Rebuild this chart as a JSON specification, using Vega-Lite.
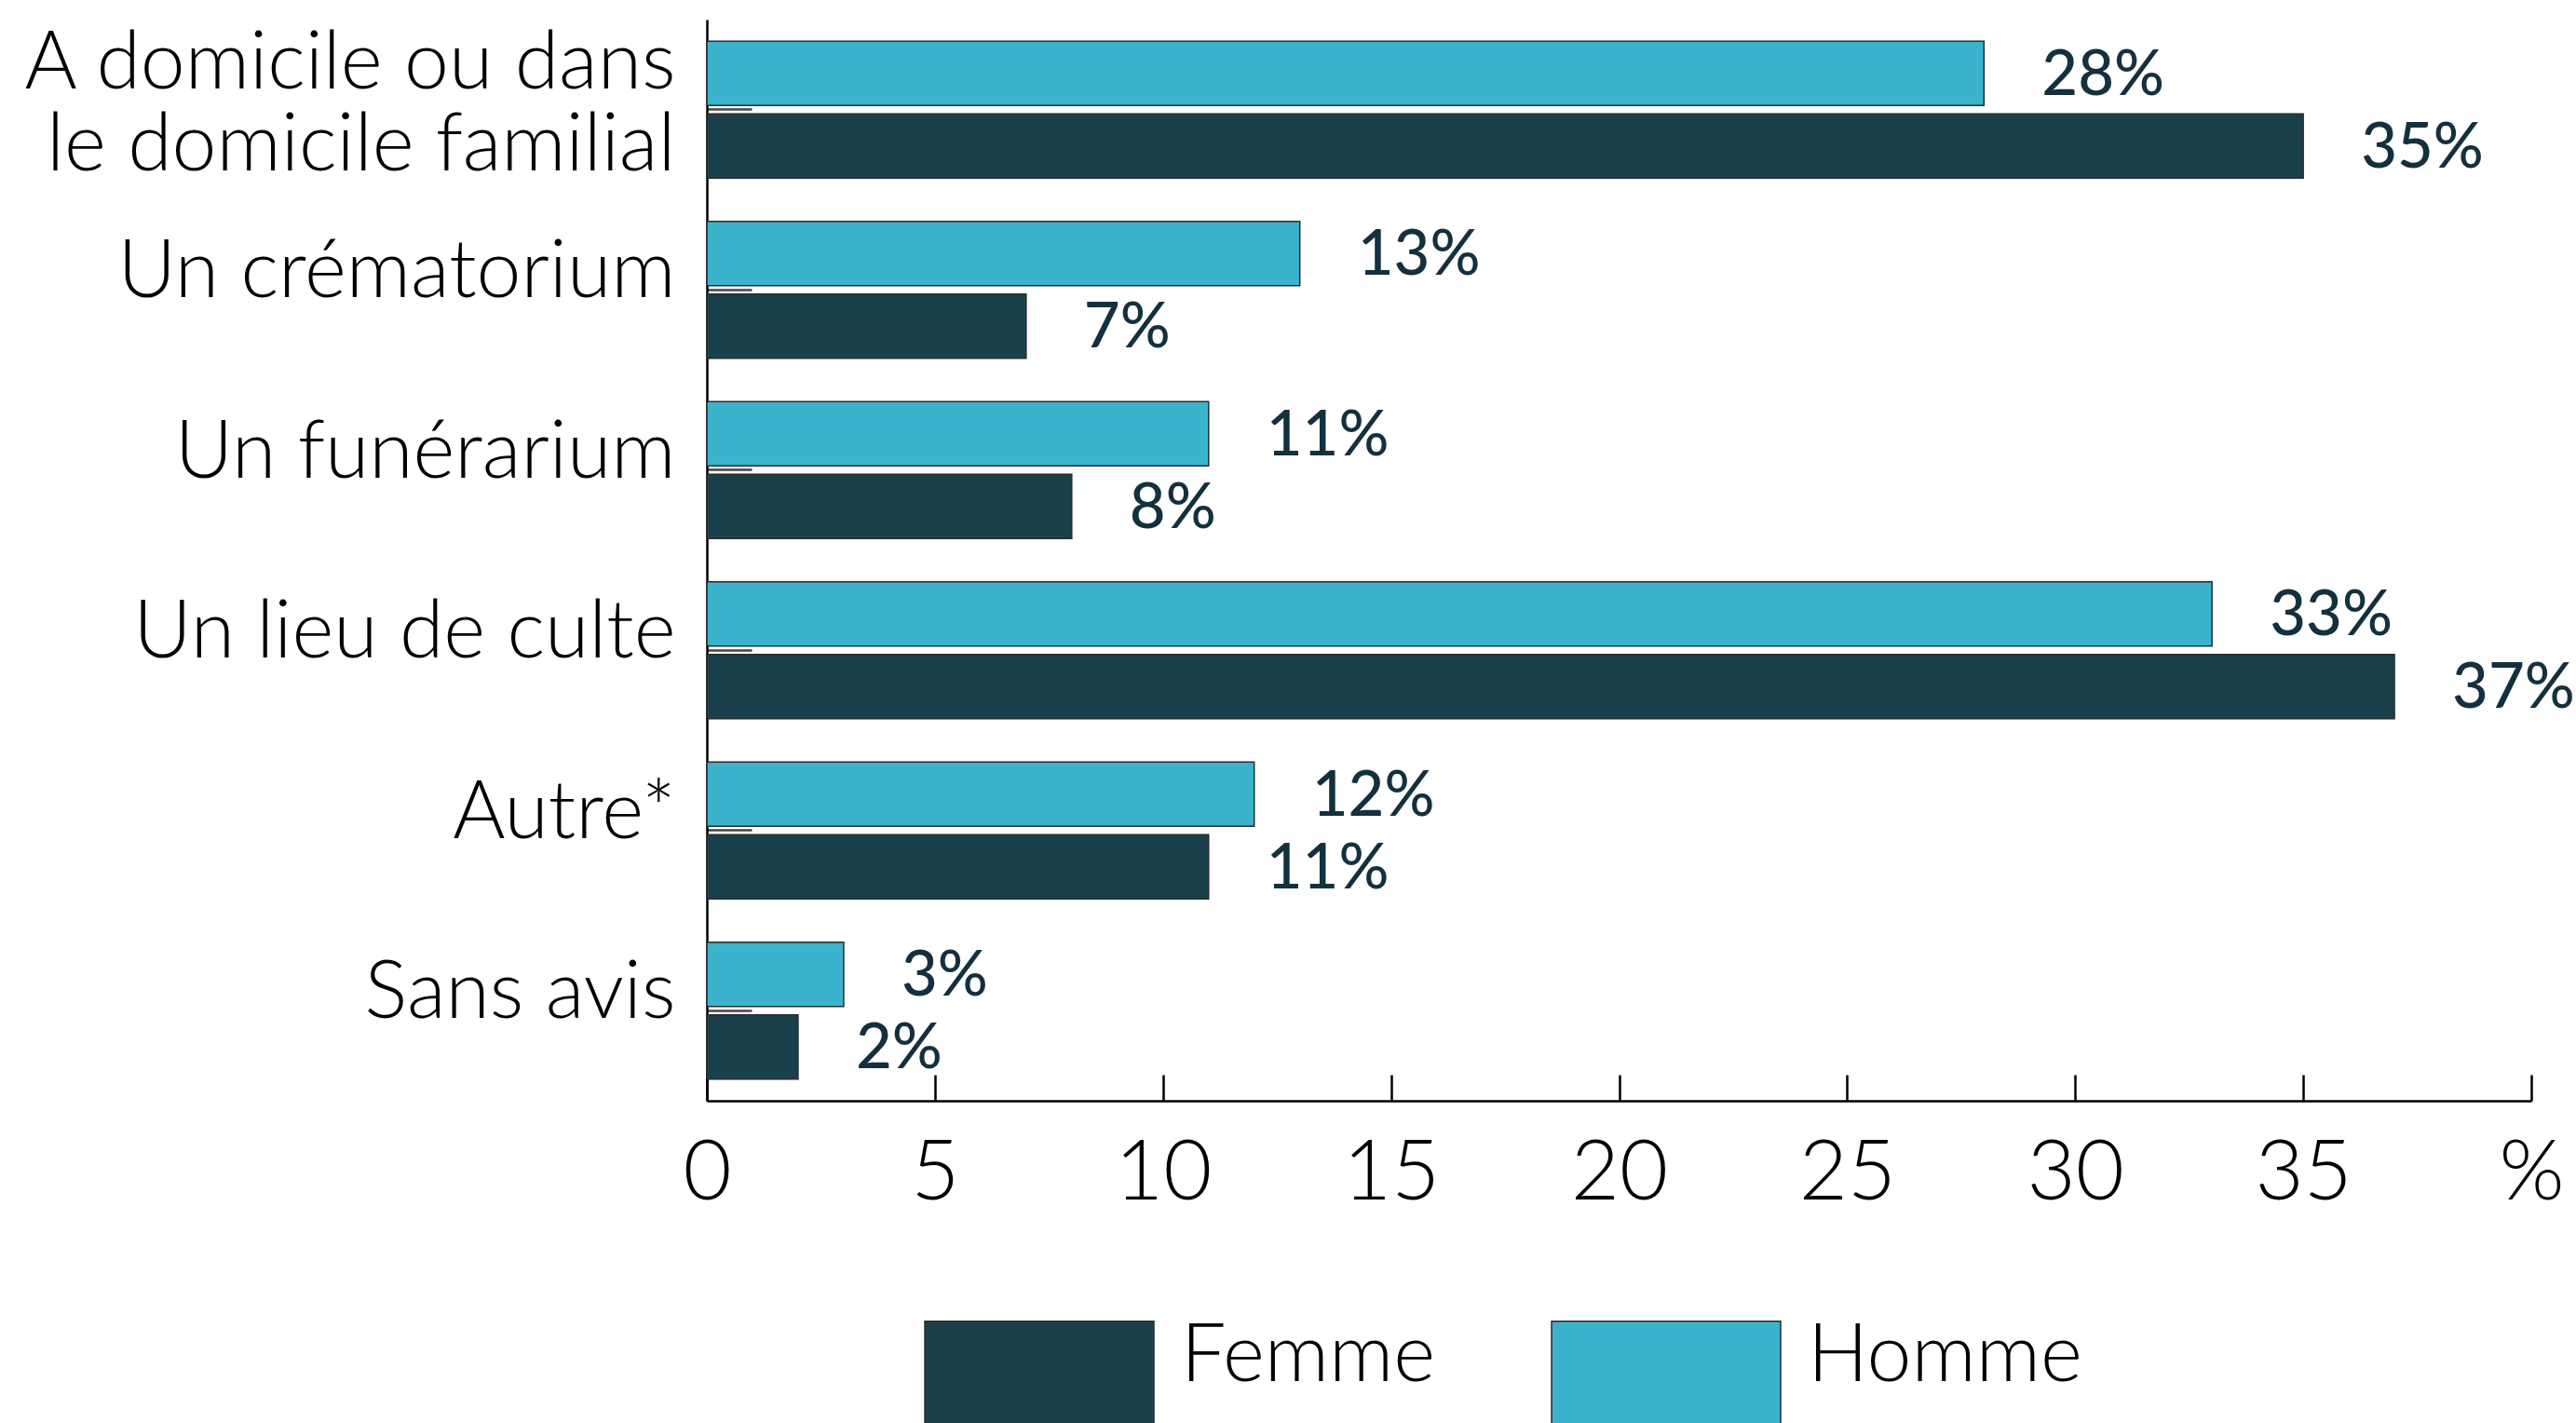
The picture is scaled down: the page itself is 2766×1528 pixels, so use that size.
{
  "$schema": "https://vega.github.io/schema/vega-lite/v6.json",
  "autosize": {"type": "none"},
  "padding": {"left": 759, "top": 21, "right": 48, "bottom": 346},
  "width": 1959,
  "height": 1161,
  "background": "white",
  "data": {
    "values": [
      {"lieu": "A domicile ou dans le domicile familial", "sexe": "Homme", "valeur": 28},
      {"lieu": "A domicile ou dans le domicile familial", "sexe": "Femme", "valeur": 35},
      {"lieu": "Un crématorium", "sexe": "Homme", "valeur": 13},
      {"lieu": "Un crématorium", "sexe": "Femme", "valeur": 7},
      {"lieu": "Un funérarium", "sexe": "Homme", "valeur": 11},
      {"lieu": "Un funérarium", "sexe": "Femme", "valeur": 8},
      {"lieu": "Un lieu de culte", "sexe": "Homme", "valeur": 33},
      {"lieu": "Un lieu de culte", "sexe": "Femme", "valeur": 37},
      {"lieu": "Autre*", "sexe": "Homme", "valeur": 12},
      {"lieu": "Autre*", "sexe": "Femme", "valeur": 11},
      {"lieu": "Sans avis", "sexe": "Homme", "valeur": 3},
      {"lieu": "Sans avis", "sexe": "Femme", "valeur": 2}
    ]
  },
  "encoding": {
    "y": {
      "field": "lieu",
      "type": "nominal",
      "sort": ["A domicile ou dans le domicile familial", "Un crématorium", "Un funérarium", "Un lieu de culte", "Autre*", "Sans avis"],
      "scale": {"paddingInner": 0.24, "paddingOuter": 0.12},
      "axis": {
        "title": null,
        "domainColor": "#000000",
        "domainWidth": 2.5,
        "tickColor": "#444444",
        "tickWidth": 2.5,
        "tickSize": -48,
        "labelPadding": 82,
        "labelFont": "Lato",
        "labelFontWeight": 300,
        "labelFontSize": 86,
        "labelColor": "#000000",
        "labelLimit": 1000,
        "labelLineHeight": 88,
        "labelOffset": {"condition": {"test": "datum.value == 'A domicile ou dans le domicile familial'", "value": -49}, "value": -18},
        "labelExpr": "datum.value == 'A domicile ou dans le domicile familial' ? ['A domicile ou dans', 'le domicile familial'] : datum.label"
      }
    },
    "yOffset": {
      "field": "sexe",
      "type": "nominal",
      "sort": ["Homme", "Femme"],
      "scale": {"paddingInner": 0.115, "paddingOuter": 0}
    },
    "x": {
      "field": "valeur",
      "type": "quantitative",
      "scale": {"domain": [0, 40], "nice": false},
      "axis": {
        "title": null,
        "values": [0, 5, 10, 15, 20, 25, 30, 35, 40],
        "grid": false,
        "domainColor": "#000000",
        "domainWidth": 2.5,
        "tickColor": "#000000",
        "tickWidth": 2.5,
        "tickSize": -28,
        "labelPadding": 62,
        "labelFont": "Lato",
        "labelFontWeight": 300,
        "labelFontSize": 90,
        "labelColor": "#000000",
        "labelFlush": false,
        "labelOverlap": false,
        "labelExpr": "datum.value == 40 ? '%' : datum.label"
      }
    }
  },
  "layer": [
    {
      "mark": {"type": "bar", "stroke": "#2b2b2b", "strokeWidth": 1.5},
      "encoding": {
        "color": {
          "field": "sexe",
          "type": "nominal",
          "scale": {"domain": ["Femme", "Homme"], "range": ["#1a414b", "#3bb3cc"]},
          "legend": {
            "title": null,
            "orient": "none",
            "legendX": 233,
            "legendY": 1312,
            "direction": "horizontal",
            "padding": 0,
            "symbolType": "M-1,-0.31H1V1H-1Z",
            "symbolSize": 60516,
            "symbolStrokeColor": "#2b2b2b",
            "symbolStrokeWidth": 1.5,
            "symbolOpacity": 1,
            "labelOffset": 28,
            "columnPadding": 121,
            "labelFont": "Lato",
            "labelFontWeight": 300,
            "labelFontSize": 86,
            "labelColor": "#000000",
            "labelLimit": 1000
          }
        }
      }
    },
    {
      "transform": [{"calculate": "datum.valeur + '%'", "as": "etiquette"}],
      "mark": {"type": "text", "align": "left", "baseline": "middle", "dx": 62, "dy": 3, "font": "Lato", "fontWeight": 500, "fontSize": 67, "color": "#14303e"},
      "encoding": {
        "text": {"field": "etiquette", "type": "nominal"}
      }
    }
  ],
  "config": {
    "view": {"stroke": null}
  }
}
